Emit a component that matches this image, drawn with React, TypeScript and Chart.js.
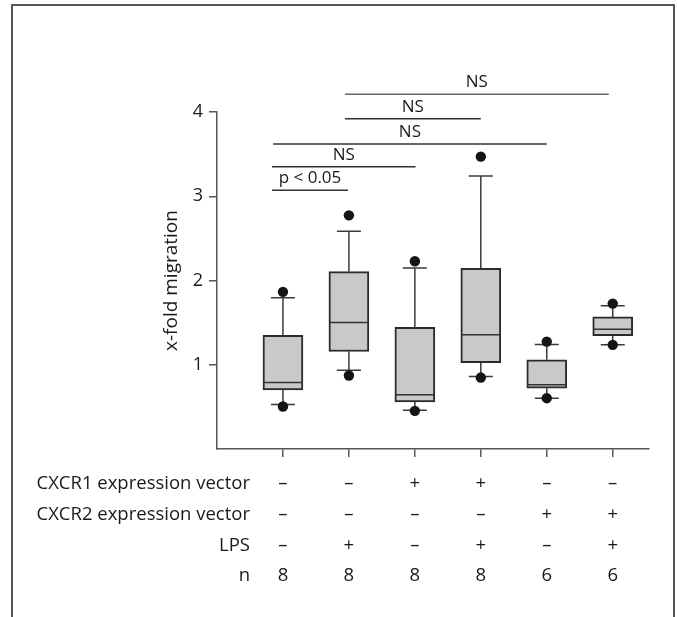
import React, { useEffect, useRef } from 'react';
import { Chart, registerables } from 'chart.js';

Chart.register(...registerables);

// ---- data ----
const groups = [1, 2, 3, 4, 5, 6];
const q1 = [0.70, 1.157, 0.56, 1.026, 0.721, 1.346];
const median = [0.789, 1.501, 0.643, 1.355, 0.762, 1.421];
const q3 = [1.35, 2.106, 1.445, 2.145, 1.058, 1.568];
const whiskerLow = [0.528, 0.935, 0.46, 0.86, 0.603, 1.236];
const whiskerHigh = [1.794, 2.584, 2.149, 3.24, 1.24, 1.699];
const outlierLow = [0.504, 0.872, 0.453, 0.848, 0.603, 1.236];
const outlierHigh = [1.865, 2.773, 2.228, 3.47, 1.275, 1.726];

const yTicks = [1, 2, 3, 4];

// significance brackets
const sigStart = [0.834, 0.834, 0.85, 1.94, 1.94];
const sigEnd = [1.986, 3.01, 5.0, 4.0, 5.94];
const sigLevel = [3.07, 3.35, 3.62, 3.92, 4.21];
const sigLabels = ['p < 0.05', 'NS', 'NS', 'NS', 'NS'];

// table under the x axis
const rowLabels = ['CXCR1 expression vector', 'CXCR2 expression vector', 'LPS', 'n'];
const cxcr1 = ['–', '–', '+', '+', '–', '–'];
const cxcr2 = ['–', '–', '–', '–', '+', '+'];
const lps = ['–', '+', '–', '+', '–', '+'];
const nValues = ['8', '8', '8', '8', '6', '6'];
const tableRows = [cxcr1, cxcr2, lps, nValues];

const FONT = '"Open Sans", "Noto Sans", sans-serif';
const TEXT = '#1a1a1a';

const boxPlugin = {
  id: 'boxExtras',
  beforeDraw(chart: any) {
    const ctx = chart.ctx;
    ctx.save();
    ctx.strokeStyle = '#555';
    ctx.lineWidth = 2;
    ctx.beginPath();
    ctx.moveTo(12, chart.height);
    ctx.lineTo(12, 5);
    ctx.lineTo(674, 5);
    ctx.lineTo(674, chart.height);
    ctx.stroke();
    ctx.restore();
  },
  beforeDatasetsDraw(chart: any) {
    const ctx = chart.ctx;
    const xs = chart.scales.x;
    const ys = chart.scales.y;
    ctx.save();
    ctx.strokeStyle = '#3a3a3a';
    ctx.lineWidth = 1.5;
    const capHalf = 12;
    groups.forEach((g, i) => {
      const x = xs.getPixelForValue(g);
      const segs: [number, number][] = [
        [q3[i], whiskerHigh[i]],
        [q1[i], whiskerLow[i]],
      ];
      segs.forEach(([a, b]) => {
        const ya = ys.getPixelForValue(a);
        const yb = ys.getPixelForValue(b);
        ctx.beginPath();
        ctx.moveTo(x, ya);
        ctx.lineTo(x, yb);
        ctx.moveTo(x - capHalf, yb);
        ctx.lineTo(x + capHalf, yb);
        ctx.stroke();
      });
    });
    ctx.restore();
  },
  afterDatasetsDraw(chart: any) {
    const ctx = chart.ctx;
    const xs = chart.scales.x;
    const ys = chart.scales.y;
    ctx.save();
    ctx.strokeStyle = '#333';
    ctx.lineWidth = 1.5;
    groups.forEach((g, i) => {
      const x = xs.getPixelForValue(g);
      const y = ys.getPixelForValue(median[i]);
      ctx.beginPath();
      ctx.moveTo(x - 19, y);
      ctx.lineTo(x + 19, y);
      ctx.stroke();
    });
    ctx.restore();
  },
  afterDraw(chart: any) {
    const ctx = chart.ctx;
    const xs = chart.scales.x;
    const ys = chart.scales.y;
    ctx.save();
    // significance brackets
    sigLabels.forEach((lab, i) => {
      const x0 = xs.getPixelForValue(sigStart[i]);
      const x1 = xs.getPixelForValue(sigEnd[i]);
      const y = ys.getPixelForValue(sigLevel[i]);
      ctx.strokeStyle = i === 4 ? '#666' : '#333';
      ctx.lineWidth = 1.5;
      ctx.beginPath();
      ctx.moveTo(x0, y);
      ctx.lineTo(x1, y);
      ctx.stroke();
      ctx.fillStyle = TEXT;
      ctx.font = `17px ${FONT}`;
      ctx.textAlign = 'center';
      ctx.textBaseline = 'middle';
      ctx.fillText(lab, (x0 + x1) / 2, y - 12);
    });
    // table
    const area = chart.chartArea;
    const rowY = [35, 66, 97, 127];
    ctx.font = `18.5px ${FONT}`;
    ctx.fillStyle = TEXT;
    ctx.textBaseline = 'middle';
    rowLabels.forEach((lab, r) => {
      const y = area.bottom + rowY[r];
      ctx.textAlign = 'right';
      ctx.fillText(lab, area.left + 33, y);
      ctx.textAlign = 'center';
      tableRows[r].forEach((v, i) => {
        ctx.fillText(v, xs.getPixelForValue(groups[i]), y);
      });
    });
    ctx.restore();
  },
};

export default function App() {
  const ref = useRef<HTMLCanvasElement | null>(null);
  useEffect(() => {
    if (!ref.current) return;
    const chart = new Chart(ref.current, {
      type: 'bar',
      data: {
        datasets: [
          {
            type: 'bar',
            data: groups.map((g, i) => ({ x: g, y: [q1[i], q3[i]] })) as any,
            backgroundColor: '#c8c9cb',
            borderColor: '#2b2b2b',
            borderWidth: 2,
            borderSkipped: false,
            barThickness: 40,
          } as any,
          {
            type: 'scatter',
            data: [
              ...groups.map((g, i) => ({ x: g, y: outlierHigh[i] })),
              ...groups.map((g, i) => ({ x: g, y: outlierLow[i] })),
            ],
            backgroundColor: '#151515',
            borderWidth: 0,
            pointRadius: 5.2,
          } as any,
        ],
      },
      options: {
        responsive: false,
        animation: false,
        layout: { padding: { left: 160, right: 29, top: 112, bottom: 160 } },
        plugins: { legend: { display: false }, tooltip: { enabled: false } },
        scales: {
          x: {
            type: 'linear',
            min: 0,
            max: 6.55,
            offset: false,
            afterBuildTicks: (axis: any) => {
              axis.ticks = groups.map((v) => ({ value: v }));
            },
            afterFit: (axis: any) => {
              axis.height = 8;
            },
            ticks: { display: false },
            grid: { offset: false, drawOnChartArea: false, drawTicks: true, tickLength: 8, color: '#555', lineWidth: 1.5 },
            border: { display: true, color: '#555', width: 1.5 },
          },
          y: {
            type: 'linear',
            min: 0,
            max: 4,
            afterBuildTicks: (axis: any) => {
              axis.ticks = yTicks.map((v) => ({ value: v }));
            },
            afterFit: (axis: any) => {
              axis.width = 57;
            },
            ticks: { font: { family: FONT, size: 18 }, color: TEXT, padding: 6 },
            grid: { drawOnChartArea: false, drawTicks: true, tickLength: 8, color: '#555', lineWidth: 1.5 },
            border: { display: true, color: '#555', width: 1.5 },
            title: {
              display: true,
              text: 'x-fold migration',
              font: { family: FONT, size: 19 },
              color: TEXT,
              padding: 0,
            },
          },
        },
      },
      plugins: [boxPlugin],
    } as any);
    return () => chart.destroy();
  }, []);
  return (
    <div style={{ position: 'fixed', left: 0, top: 0, width: 678, height: 617, background: '#fff' }}>
      <canvas ref={ref} width={678} height={617} />
    </div>
  );
}
